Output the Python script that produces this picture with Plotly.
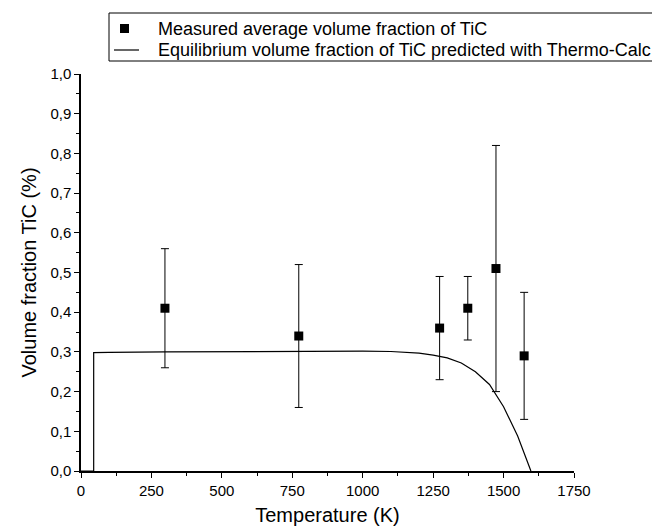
import plotly.graph_objects as go

# Measured data
temps = [298, 773, 1273, 1373, 1473, 1573]
frac = [0.41, 0.34, 0.36, 0.41, 0.51, 0.29]
err_hi = [0.56, 0.52, 0.49, 0.49, 0.82, 0.45]
err_lo = [0.26, 0.16, 0.23, 0.33, 0.20, 0.13]

# Thermo-Calc equilibrium curve
calc_T = [0, 45, 45, 100, 300, 500, 700, 900, 1000, 1100, 1200, 1250, 1300,
          1350, 1400, 1450, 1500, 1550, 1597]
calc_v = [0.0, 0.0, 0.298, 0.299, 0.300, 0.301, 0.302, 0.302, 0.302, 0.301,
          0.297, 0.292, 0.285, 0.272, 0.250, 0.218, 0.162, 0.088, 0.0]

x_ticks = [0, 250, 500, 750, 1000, 1250, 1500, 1750]
legend_labels = ["Measured average volume fraction of TiC",
                 "Equilibrium volume fraction of TiC predicted with Thermo-Calc"]

font = "Liberation Sans, Arial, sans-serif"

W, H = 660, 526
ML, MR, MT, MB = 73, 94, 66, 63
PW, PH = W - ML - MR, H - MT - MB


def px(x):
    return (x - ML) / PW


def py(y):
    return (H - MB - y) / PH


fig = go.Figure()
fig.add_trace(go.Scatter(
    x=temps, y=frac, mode="markers",
    name=legend_labels[0], showlegend=False,
    marker=dict(symbol="square", size=9, color="black"),
    error_y=dict(type="data", symmetric=False,
                 array=[h - v for h, v in zip(err_hi, frac)],
                 arrayminus=[v - l for v, l in zip(frac, err_lo)],
                 color="black", thickness=1, width=4),
))
fig.add_trace(go.Scatter(
    x=calc_T, y=calc_v, mode="lines",
    name=legend_labels[1], showlegend=False,
    line=dict(color="black", width=1.2),
))

# Legend box (drawn by hand to match the reference's compact layout)
shapes = [
    dict(type="rect", xref="paper", yref="paper",
         x0=px(101), x1=px(700), y0=py(53), y1=py(5),
         line=dict(color="black", width=1), fillcolor="white", layer="above"),
    dict(type="rect", xref="paper", yref="paper",
         x0=px(112), x1=px(121), y0=py(25), y1=py(16),
         line=dict(color="black", width=0), fillcolor="black", layer="above"),
    dict(type="line", xref="paper", yref="paper",
         x0=px(106), x1=px(131), y0=py(42), y1=py(42),
         line=dict(color="black", width=1.2), layer="above"),
]
annotations = [
    dict(text=legend_labels[0], xref="paper", yref="paper", x=px(148), y=py(20.5),
         xanchor="left", yanchor="middle", showarrow=False,
         font=dict(family=font, size=18, color="black")),
    dict(text=legend_labels[1], xref="paper", yref="paper", x=px(148), y=py(42),
         xanchor="left", yanchor="middle", showarrow=False,
         font=dict(family=font, size=18, color="black")),
]

fig.update_layout(
    width=W, height=H,
    margin=dict(l=ML, r=MR, t=MT, b=MB, autoexpand=False),
    paper_bgcolor="white", plot_bgcolor="white",
    separators=",.",
    font=dict(family=font, size=15, color="black"),
    showlegend=False,
    shapes=shapes, annotations=annotations,
)
fig.update_xaxes(
    range=[0, 1750], tickvals=x_ticks,
    showline=True, linecolor="black", linewidth=1.5, mirror=False,
    ticks="outside", ticklen=5, tickwidth=1.2, tickcolor="black",
    minor=dict(dtick=125, ticks="outside", ticklen=3, tickwidth=1.2, tickcolor="black", tick0=0),
    showgrid=False, zeroline=False,
    tickfont=dict(family=font, size=15),
    title=dict(text="Temperature (K)", font=dict(family=font, size=20), standoff=10),
)
fig.update_yaxes(
    range=[0, 1.0], dtick=0.1, tick0=0, tickformat=".1f",
    showline=True, linecolor="black", linewidth=1.5, mirror=False,
    ticks="outside", ticklen=5, tickwidth=1.2, tickcolor="black",
    minor=dict(dtick=0.05, ticks="outside", ticklen=3, tickwidth=1.2, tickcolor="black", tick0=0),
    showgrid=False, zeroline=False,
    tickfont=dict(family=font, size=15),
    title=dict(text="Volume fraction TiC (%)", font=dict(family=font, size=20), standoff=8),
)

fig.write_html("out.html")
